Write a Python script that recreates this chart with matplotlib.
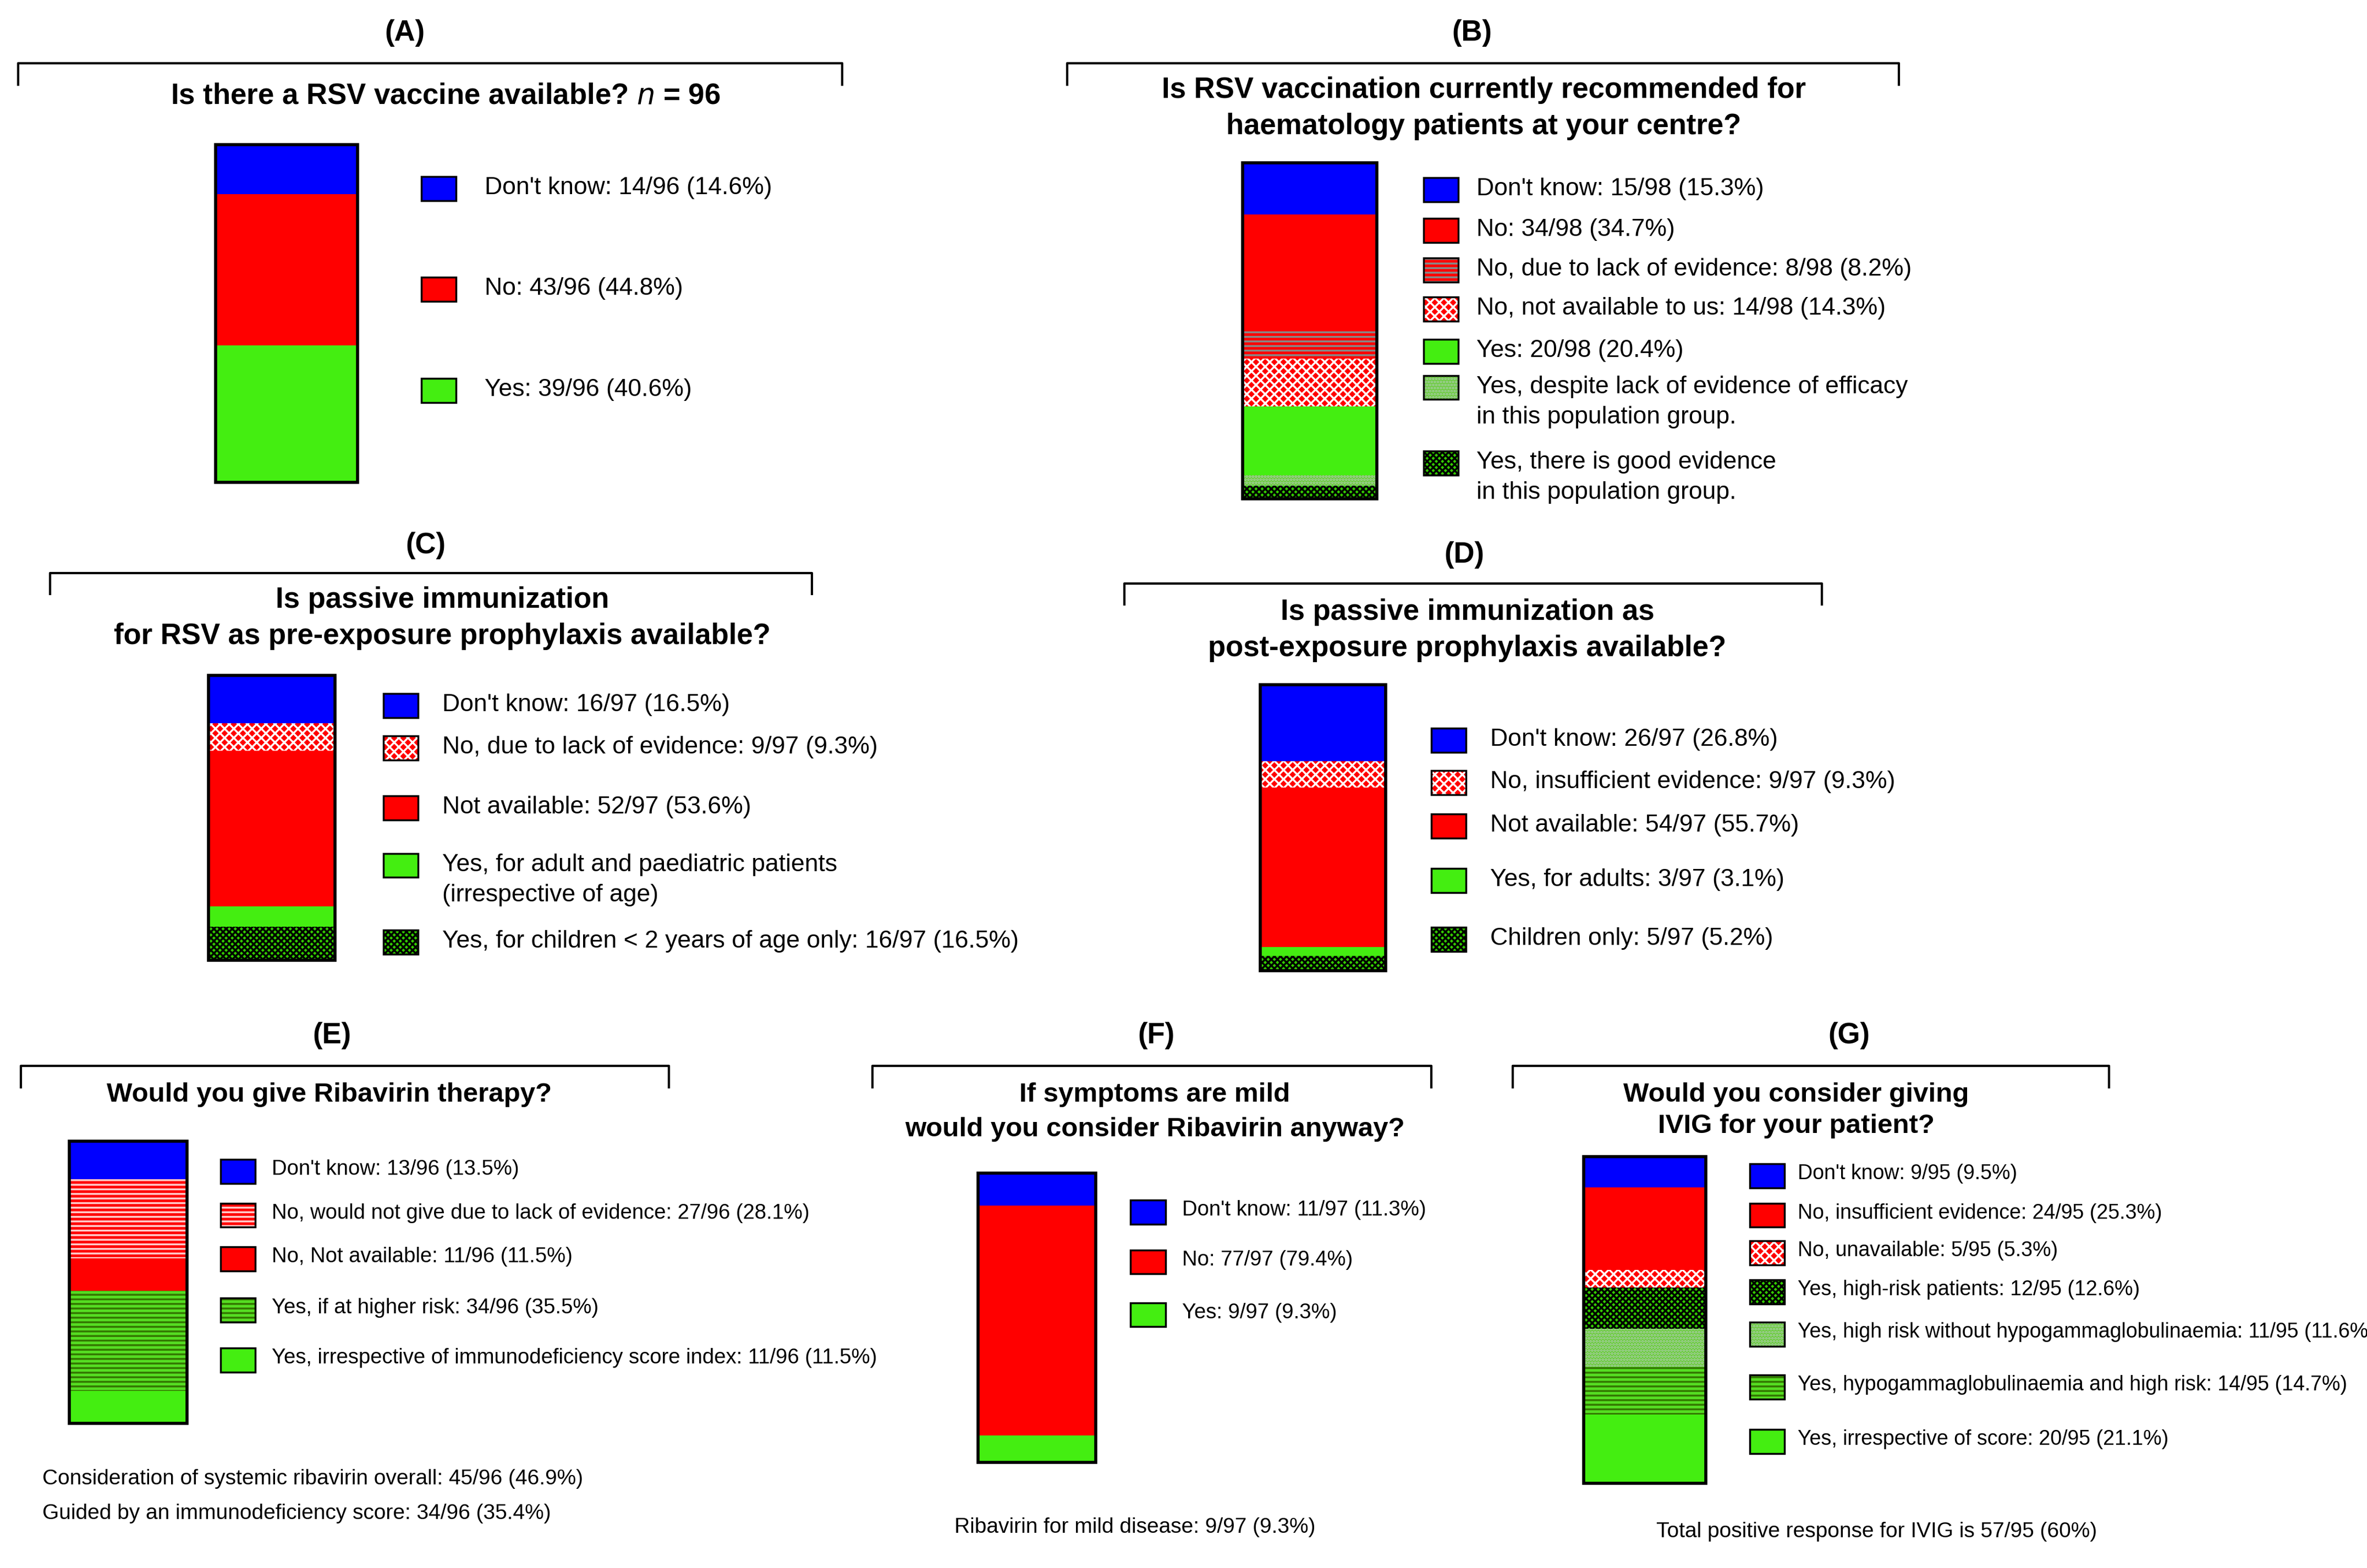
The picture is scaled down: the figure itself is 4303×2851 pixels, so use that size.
import matplotlib
matplotlib.use("Agg")
import matplotlib.pyplot as plt
from matplotlib.patches import Rectangle
from matplotlib.lines import Line2D

plt.rcParams['font.family'] = ['Liberation Sans', 'DejaVu Sans']
plt.rcParams['hatch.linewidth'] = 2.5

# ---------------- data ----------------
a_labels = ["Don't know: 14/96 (14.6%)", "No: 43/96 (44.8%)", "Yes: 39/96 (40.6%)"]
a_values = [14.6, 44.8, 40.6]
a_styles = ['blue', 'red', 'green']

b_labels = ["Don't know: 15/98 (15.3%)", "No: 34/98 (34.7%)", "No, due to lack of evidence: 8/98 (8.2%)",
            "No, not available to us: 14/98 (14.3%)", "Yes: 20/98 (20.4%)",
            "Yes, despite lack of evidence of efficacy\nin this population group.",
            "Yes, there is good evidence\nin this population group."]
b_values = [15.3, 34.7, 8.2, 14.3, 20.4, 3.1, 4.0]
b_styles = ['blue', 'red', 'red_lines', 'red_check', 'green', 'green_grey', 'green_check']

c_labels = ["Don't know: 16/97 (16.5%)", "No, due to lack of evidence: 9/97 (9.3%)", "Not available: 52/97 (53.6%)",
            "Yes, for adult and paediatric patients\n(irrespective of age)",
            "Yes, for children < 2 years of age only: 16/97 (16.5%)"]
c_values = [16.5, 9.3, 53.6, 7.0, 11.6]
c_styles = ['blue', 'red_check', 'red', 'green', 'green_check']

d_labels = ["Don't know: 26/97 (26.8%)", "No, insufficient evidence: 9/97 (9.3%)", "Not available: 54/97 (55.7%)",
            "Yes, for adults: 3/97 (3.1%)", "Children only: 5/97 (5.2%)"]
d_values = [26.8, 9.3, 55.7, 3.1, 5.2]
d_styles = ['blue', 'red_check', 'red', 'green', 'green_check']

e_labels = ["Don't know: 13/96 (13.5%)", "No, would not give due to lack of evidence: 27/96 (28.1%)",
            "No, Not available: 11/96 (11.5%)", "Yes, if at higher risk: 34/96 (35.5%)",
            "Yes, irrespective of immunodeficiency score index: 11/96 (11.5%)"]
e_values = [13.5, 28.1, 11.5, 35.5, 11.5]
e_styles = ['blue', 'red_wlines', 'red', 'green_lines', 'green']

f_labels = ["Don't know: 11/97 (11.3%)", "No: 77/97 (79.4%)", "Yes: 9/97 (9.3%)"]
f_values = [11.3, 79.4, 9.3]
f_styles = ['blue', 'red', 'green']

g_labels = ["Don't know: 9/95 (9.5%)", "No, insufficient evidence: 24/95 (25.3%)", "No, unavailable: 5/95 (5.3%)",
            "Yes, high-risk patients: 12/95 (12.6%)", "Yes, high risk without hypogammaglobulinaemia: 11/95 (11.6%)",
            "Yes, hypogammaglobulinaemia and high risk: 14/95 (14.7%)", "Yes, irrespective of score: 20/95 (21.1%)"]
g_values = [9.5, 25.3, 5.3, 12.6, 11.6, 14.7, 21.1]
g_styles = ['blue', 'red', 'red_check', 'green_check', 'green_grey', 'green_lines', 'green']

STY = {
    'blue': dict(fc='#0000ff', hatch=None, ec='#0000ff'),
    'red': dict(fc='#ff0000', hatch=None, ec='#ff0000'),
    'green': dict(fc='#44ee11', hatch=None, ec='#44ee11'),
    'red_lines': dict(fc='#ff0000', hatch='--', ec='#888888'),
    'red_wlines': dict(fc='#ff0000', hatch='--', ec='#ffcccc'),
    'red_check': dict(fc='#ff0000', hatch='xx', ec='#ffffff'),
    'green_check': dict(fc='#33cc00', hatch='xxx', ec='#000000'),
    'green_grey': dict(fc='#66cc33', hatch='...', ec='#aaccaa'),
    'green_lines': dict(fc='#55dd22', hatch='--', ec='#337700'),
}

W, H = 1568.0, 1040.0
fig = plt.figure(figsize=(43.03, 28.51), dpi=100)
fig.patch.set_facecolor('white')

def X(x): return x / W
def Y(y): return 1 - y / H

def bracket(x0, x1, y):
    fig.add_artist(Line2D([X(x0), X(x0), X(x1), X(x1)], [Y(y + 14), Y(y), Y(y), Y(y + 14)], color='black', lw=3))

def panel(letter, lx, ly, bx0, bx1, by, qx, qys, question, values, styles, bar, legx, legys, labels,
          qfs, lfs, toff):
    fig.text(X(lx), Y(ly), letter, ha='center', va='center', fontsize=38, fontweight='bold')
    bracket(bx0, bx1, by)
    for qy, q in zip(qys, question):
        fig.text(X(qx), Y(qy), q, ha='center', va='center', fontsize=qfs, fontweight='bold')
    x0, y0, x1, y1 = bar
    ax = fig.add_axes([X(x0), Y(y1), (x1 - x0) / W, (y1 - y0) / H])
    total = sum(values)
    ax.set_xlim(0, 1); ax.set_ylim(0, total); ax.axis('off')
    top = total
    for v, st in zip(values, styles):
        s = STY[st]
        ax.bar([0.5], [v], bottom=top - v, width=1.0, color=s['fc'], edgecolor=s['ec'], hatch=s['hatch'], lw=0)
        top -= v
    ax.add_patch(Rectangle((0, 0), 1, total, fill=False, ec='black', lw=4, clip_on=False))
    for ly2, st, lab in zip(legys, styles, labels):
        s = STY[st]
        sx, sw, sh = legx, 23, 16
        fig.add_artist(Rectangle((X(sx), Y(ly2 + sh / 2)), sw / W, sh / H, facecolor=s['fc'], edgecolor=s['ec'],
                                 hatch=s['hatch'], lw=0, transform=fig.transFigure))
        fig.add_artist(Rectangle((X(sx), Y(ly2 + sh / 2)), sw / W, sh / H, fill=False, ec='black', lw=2.5,
                                 transform=fig.transFigure))
        fig.text(X(sx + toff), Y(ly2 - 8), lab, ha='left', va='top', fontsize=lfs, linespacing=1.45)

panel('(A)', 268, 22, 12, 558, 42, 295, [64], [r"Is there a RSV vaccine available? $\bf{\it{n}}$ = 96"],
      a_values, a_styles, (143, 96, 237, 320), 279, [125, 192, 259], a_labels, 38, 32, 42)
panel('(B)', 975, 22, 707, 1258, 42, 983, [60, 84],
      ["Is RSV vaccination currently recommended for", "haematology patients at your centre?"],
      b_values, b_styles, (823, 108, 912, 331), 943, [126, 153, 179, 205, 233, 257, 307], b_labels, 38, 32, 35)
panel('(C)', 282, 362, 33, 538, 380, 293, [398, 422],
      ["Is passive immunization", "for RSV as pre-exposure prophylaxis available?"],
      c_values, c_styles, (138, 448, 222, 637), 254, [468, 496, 536, 574, 625], c_labels, 38, 32, 39)
panel('(D)', 970, 368, 745, 1207, 387, 972, [406, 430],
      ["Is passive immunization as", "post-exposure prophylaxis available?"],
      d_values, d_styles, (835, 454, 918, 644), 948, [491, 519, 548, 584, 623], d_labels, 38, 32, 39)
panel('(E)', 220, 687, 14, 443, 707, 218, [726], ["Would you give Ribavirin therapy?"],
      e_values, e_styles, (46, 757, 124, 944), 146, [777, 806, 835, 869, 902], e_labels, 35.5, 27.5, 34)
panel('(F)', 766, 687, 578, 948, 707, 765, [726, 749],
      ["If symptoms are mild", "would you consider Ribavirin anyway?"],
      f_values, f_styles, (648, 778, 726, 970), 749, [804, 837, 872], f_labels, 35.5, 27.5, 34)
panel('(G)', 1225, 687, 1002, 1397, 707, 1190, [726, 747],
      ["Would you consider giving", "IVIG for your patient?"],
      g_values, g_styles, (1049, 767, 1130, 984), 1159, [780, 806, 831, 857, 885, 920, 956], g_labels, 35.5, 27, 32)

fig.text(X(28), Y(981), "Consideration of systemic ribavirin overall: 45/96 (46.9%)", ha='left', va='center', fontsize=28)
fig.text(X(28), Y(1004), "Guided by an immunodeficiency score: 34/96 (35.4%)", ha='left', va='center', fontsize=28)
fig.text(X(752), Y(1013), "Ribavirin for mild disease: 9/97 (9.3%)", ha='center', va='center', fontsize=28)
fig.text(X(1243), Y(1016), "Total positive response for IVIG is 57/95 (60%)", ha='center', va='center', fontsize=28)

fig.savefig('out.png', dpi=100, facecolor='white')
